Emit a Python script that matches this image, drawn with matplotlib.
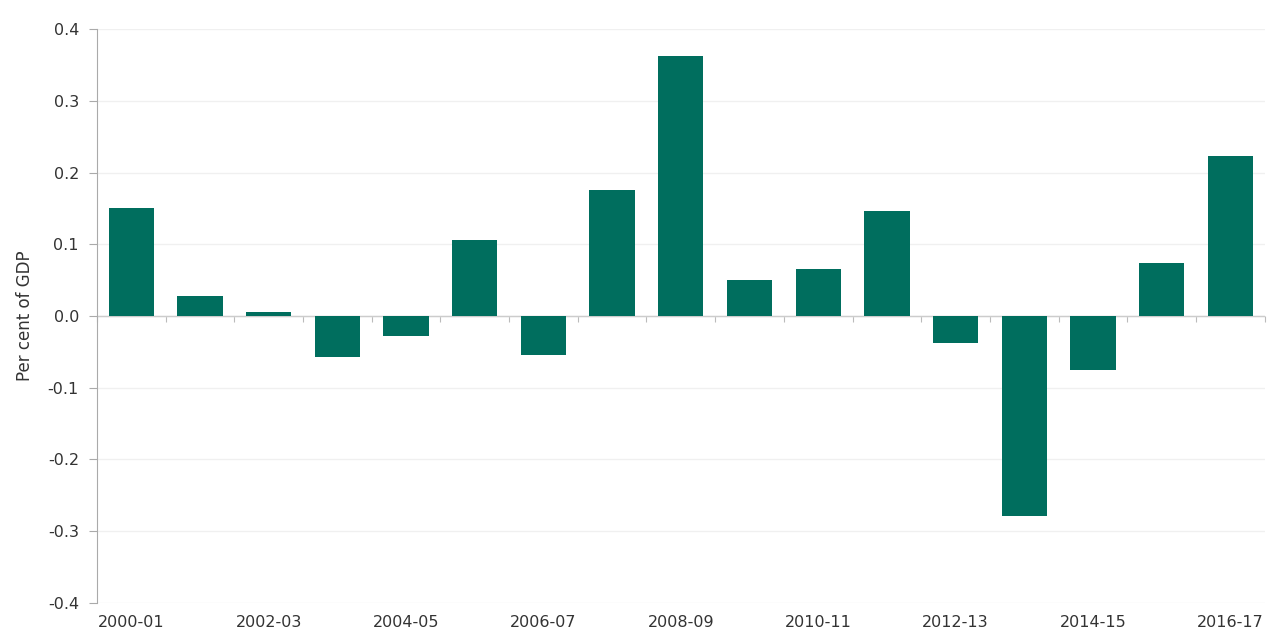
import matplotlib
matplotlib.use("Agg")
import matplotlib.pyplot as plt
import numpy as np

categories = ["2000-01", "2001-02", "2002-03", "2003-04", "2004-05", "2005-06",
              "2006-07", "2007-08", "2008-09", "2009-10", "2010-11", "2011-12",
              "2012-13", "2013-14", "2014-15", "2015-16", "2016-17"]
values = [0.150, 0.028, 0.005, -0.057, -0.028, 0.106, -0.054, 0.176, 0.363,
          0.050, 0.066, 0.147, -0.038, -0.279, -0.075, 0.074, 0.223]
yticks = [-0.4, -0.3, -0.2, -0.1, 0.0, 0.1, 0.2, 0.3, 0.4]
ylabel = "Per cent of GDP"

plt.rcParams['font.family'] = ['DejaVu Sans']
fig = plt.figure(figsize=(12.71, 6.38), dpi=100)
ax = fig.add_axes([0.0763, 0.0549, 0.9187, 0.8996])

x = np.arange(len(categories))
ax.bar(x, values, width=0.66, color="#006e5e", zorder=3)

ax.set_xlim(-0.5, len(categories) - 0.5)
ax.set_ylim(-0.4, 0.4)
ax.set_yticks(yticks)
ax.set_yticklabels([f"{v:.1f}" for v in yticks], fontsize=11.5, color="#333333")
ax.tick_params(axis='y', length=6, color="#aaaaaa", pad=7)
ax.yaxis.grid(True, color="#f0f0f0", linewidth=1, zorder=0)

ax.set_xticks(x[::2])
ax.set_xticklabels(categories[::2], fontsize=11.5, color="#333333")
ax.tick_params(axis='x', length=0, pad=9)

for s in ["top", "right", "bottom"]:
    ax.spines[s].set_visible(False)
ax.spines["left"].set_color("#aaaaaa")

ax.axhline(0, color="#cccccc", linewidth=1, zorder=2)
sec = ax.secondary_xaxis(0.5)
sec.set_xticks(np.arange(len(categories) + 1) - 0.5)
sec.set_xticklabels([])
sec.xaxis.set_ticks_position('bottom')
sec.tick_params(axis='x', length=4, color="#bbbbbb", direction="out")
for s in sec.spines.values():
    s.set_visible(False)

ax.set_ylabel(ylabel, fontsize=12, color="#333333", labelpad=10)

fig.savefig("out.png", dpi=100, facecolor="white")
